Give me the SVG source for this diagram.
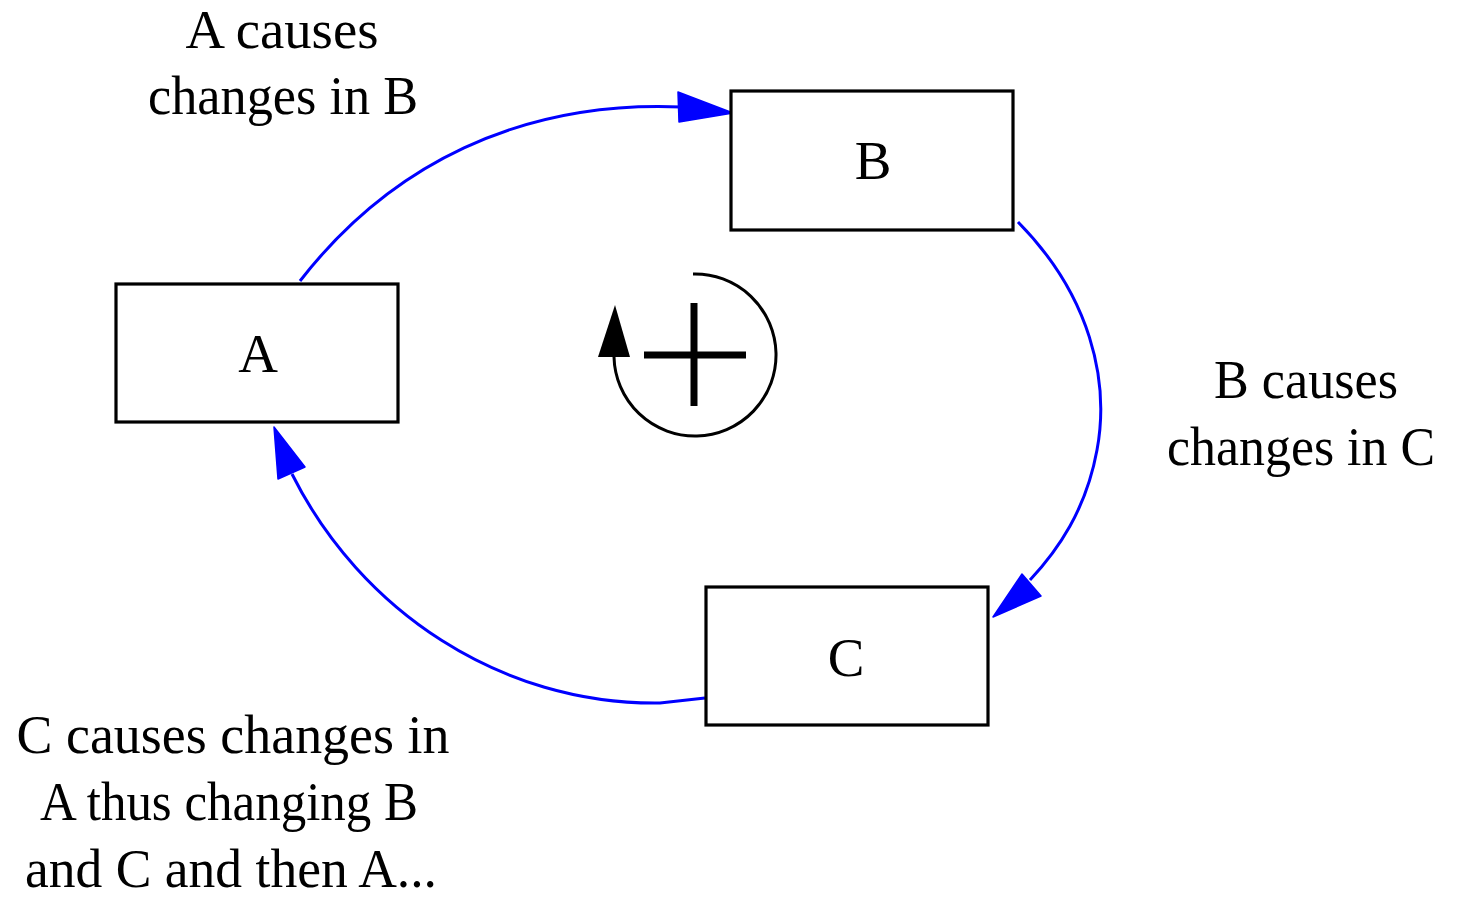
<svg xmlns="http://www.w3.org/2000/svg" width="1465" height="897" viewBox="0 0 1465 897">
<style>
.box{fill:#fff;stroke:#000;stroke-width:3.2}
.lbl{font-family:"Liberation Serif","Times New Roman",serif;font-size:55px;fill:#000;text-anchor:middle}
.conn{fill:none;stroke:#0000FF;stroke-width:3}
.head{fill:#0000FF;stroke:#0000FF;stroke-width:1.5;stroke-linejoin:round}
</style>
<rect width="1465" height="897" fill="#fff"/>
<g id="connectors">
<path class="conn" d="M300,281 C390,165 520,100 682,107"/>
<polygon class="head" points="678,92 733,113 679,122"/>
<path class="conn" d="M1018,222 C1090,295 1110,380 1097,450 C1086,510 1058,550 1030,580"/>
<polygon class="head" points="1022,574 1041,596 993,617"/>
<path class="conn" d="M705,698 L660,703 C500,705 360,610 292,474"/>
<polygon class="head" points="274,427 305,467 278,479"/>
</g>
<g id="node-B">
<rect class="box" x="731" y="91" width="282" height="139"/>
<text class="lbl" x="873" y="179">B</text>
</g>
<g id="node-A">
<rect class="box" x="116" y="284" width="282" height="138"/>
<text class="lbl" x="258" y="372">A</text>
</g>
<g id="node-C">
<rect class="box" x="706" y="587" width="282" height="138"/>
<text class="lbl" x="846" y="676">C</text>
</g>
<g id="loop-symbol">
<path d="M693,274 A81,81 0 1 1 614,357" fill="none" stroke="#000" stroke-width="3"/>
<polygon points="598,357 630,357 615,305" fill="#000"/>
<line x1="644" y1="355" x2="746" y2="355" stroke="#000" stroke-width="7"/>
<line x1="694" y1="303" x2="694" y2="406" stroke="#000" stroke-width="7"/>
</g>
<g id="label-AB">
<text class="lbl" x="282" y="48" textLength="193" lengthAdjust="spacingAndGlyphs">A causes</text>
<text class="lbl" x="283" y="114" textLength="270" lengthAdjust="spacingAndGlyphs">changes in B</text>
</g>
<g id="label-BC">
<text class="lbl" x="1306" y="398" textLength="184" lengthAdjust="spacingAndGlyphs">B causes</text>
<text class="lbl" x="1301" y="465" textLength="268" lengthAdjust="spacingAndGlyphs">changes in C</text>
</g>
<g id="label-CA">
<text class="lbl" x="233" y="753" textLength="433" lengthAdjust="spacingAndGlyphs">C causes changes in</text>
<text class="lbl" x="229" y="820" textLength="378" lengthAdjust="spacingAndGlyphs">A thus changing B</text>
<text class="lbl" x="231" y="887" textLength="412" lengthAdjust="spacingAndGlyphs">and C and then A...</text>
</g>
</svg>
